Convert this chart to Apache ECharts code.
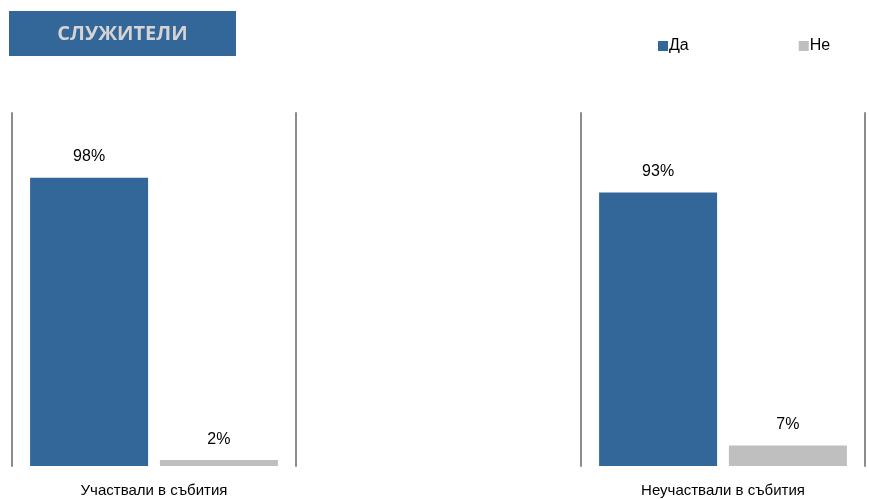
<!DOCTYPE html>
<html><head><meta charset="utf-8">
<script src="https://cdn.jsdelivr.net/npm/echarts@6/dist/echarts.min.js"></script>
<style>html,body{margin:0;padding:0;background:#fff}#c{width:869px;height:499px}</style>
</head><body><div id="c"></div>
<script>
const titleText = 'СЛУЖИТЕЛИ';
const seriesNames = ['Да', 'Не'];
const groups = ['Участвали в събития', 'Неучаствали в събития'];
const yesValues = [98, 93];
const noValues = [2, 7];

const colors = ['#336699', '#bfbfbf'];
const font = '"Liberation Sans", Arial, sans-serif';
const grids = [
  {left: 12, width: 284, top: 113, bottom: 33},
  {left: 581, width: 284, top: 113, bottom: 33}
];
const xAxes = [], yAxes = [], series = [];
groups.forEach((g, i) => {
  xAxes.push({type: 'category', gridIndex: i, data: [g],
    axisLine: {show: false}, axisTick: {show: false},
    axisLabel: {fontSize: 15, color: '#000', fontFamily: font, margin: 17}});
  const yBase = {type: 'value', gridIndex: i, min: 0, max: 120,
    axisLabel: {show: false}, axisTick: {show: false}, splitLine: {show: false},
    axisLine: {show: true, lineStyle: {color: '#8c8c8c', width: 2}}};
  yAxes.push(Object.assign({}, yBase, {position: 'left'}));
  yAxes.push(Object.assign({}, yBase, {position: 'right'}));
  [yesValues, noValues].forEach((vals, k) => {
    series.push({
      type: 'bar', name: seriesNames[k], xAxisIndex: i, yAxisIndex: i * 2,
      data: [vals[i]], barWidth: 118, barGap: '10%',
      itemStyle: {color: colors[k]},
      label: {show: true, position: 'top', distance: 13, formatter: '{c}%',
        fontSize: 16, color: '#000', fontFamily: font}
    });
  });
});

const chart = echarts.init(document.getElementById('c'));
chart.setOption({
  animation: false,
  grid: grids,
  xAxis: xAxes,
  yAxis: yAxes,
  legend: {data: seriesNames, left: 653, top: 33, itemWidth: 10, itemHeight: 10,
    itemGap: 110, icon: 'rect',
    textStyle: {fontSize: 16, color: '#000', fontFamily: font, padding: [0, 0, 0, -4]}},
  graphic: [
    {type: 'rect', left: 9, top: 11, shape: {width: 227, height: 45},
      style: {fill: '#336699'}},
    {type: 'text', x: 122.5, y: 34, style: {text: titleText, fill: '#d4d4d4',
      font: 'bold 20px "Open Sans", sans-serif', align: 'center', verticalAlign: 'middle'}}
  ],
  series: series
});
</script></body></html>
